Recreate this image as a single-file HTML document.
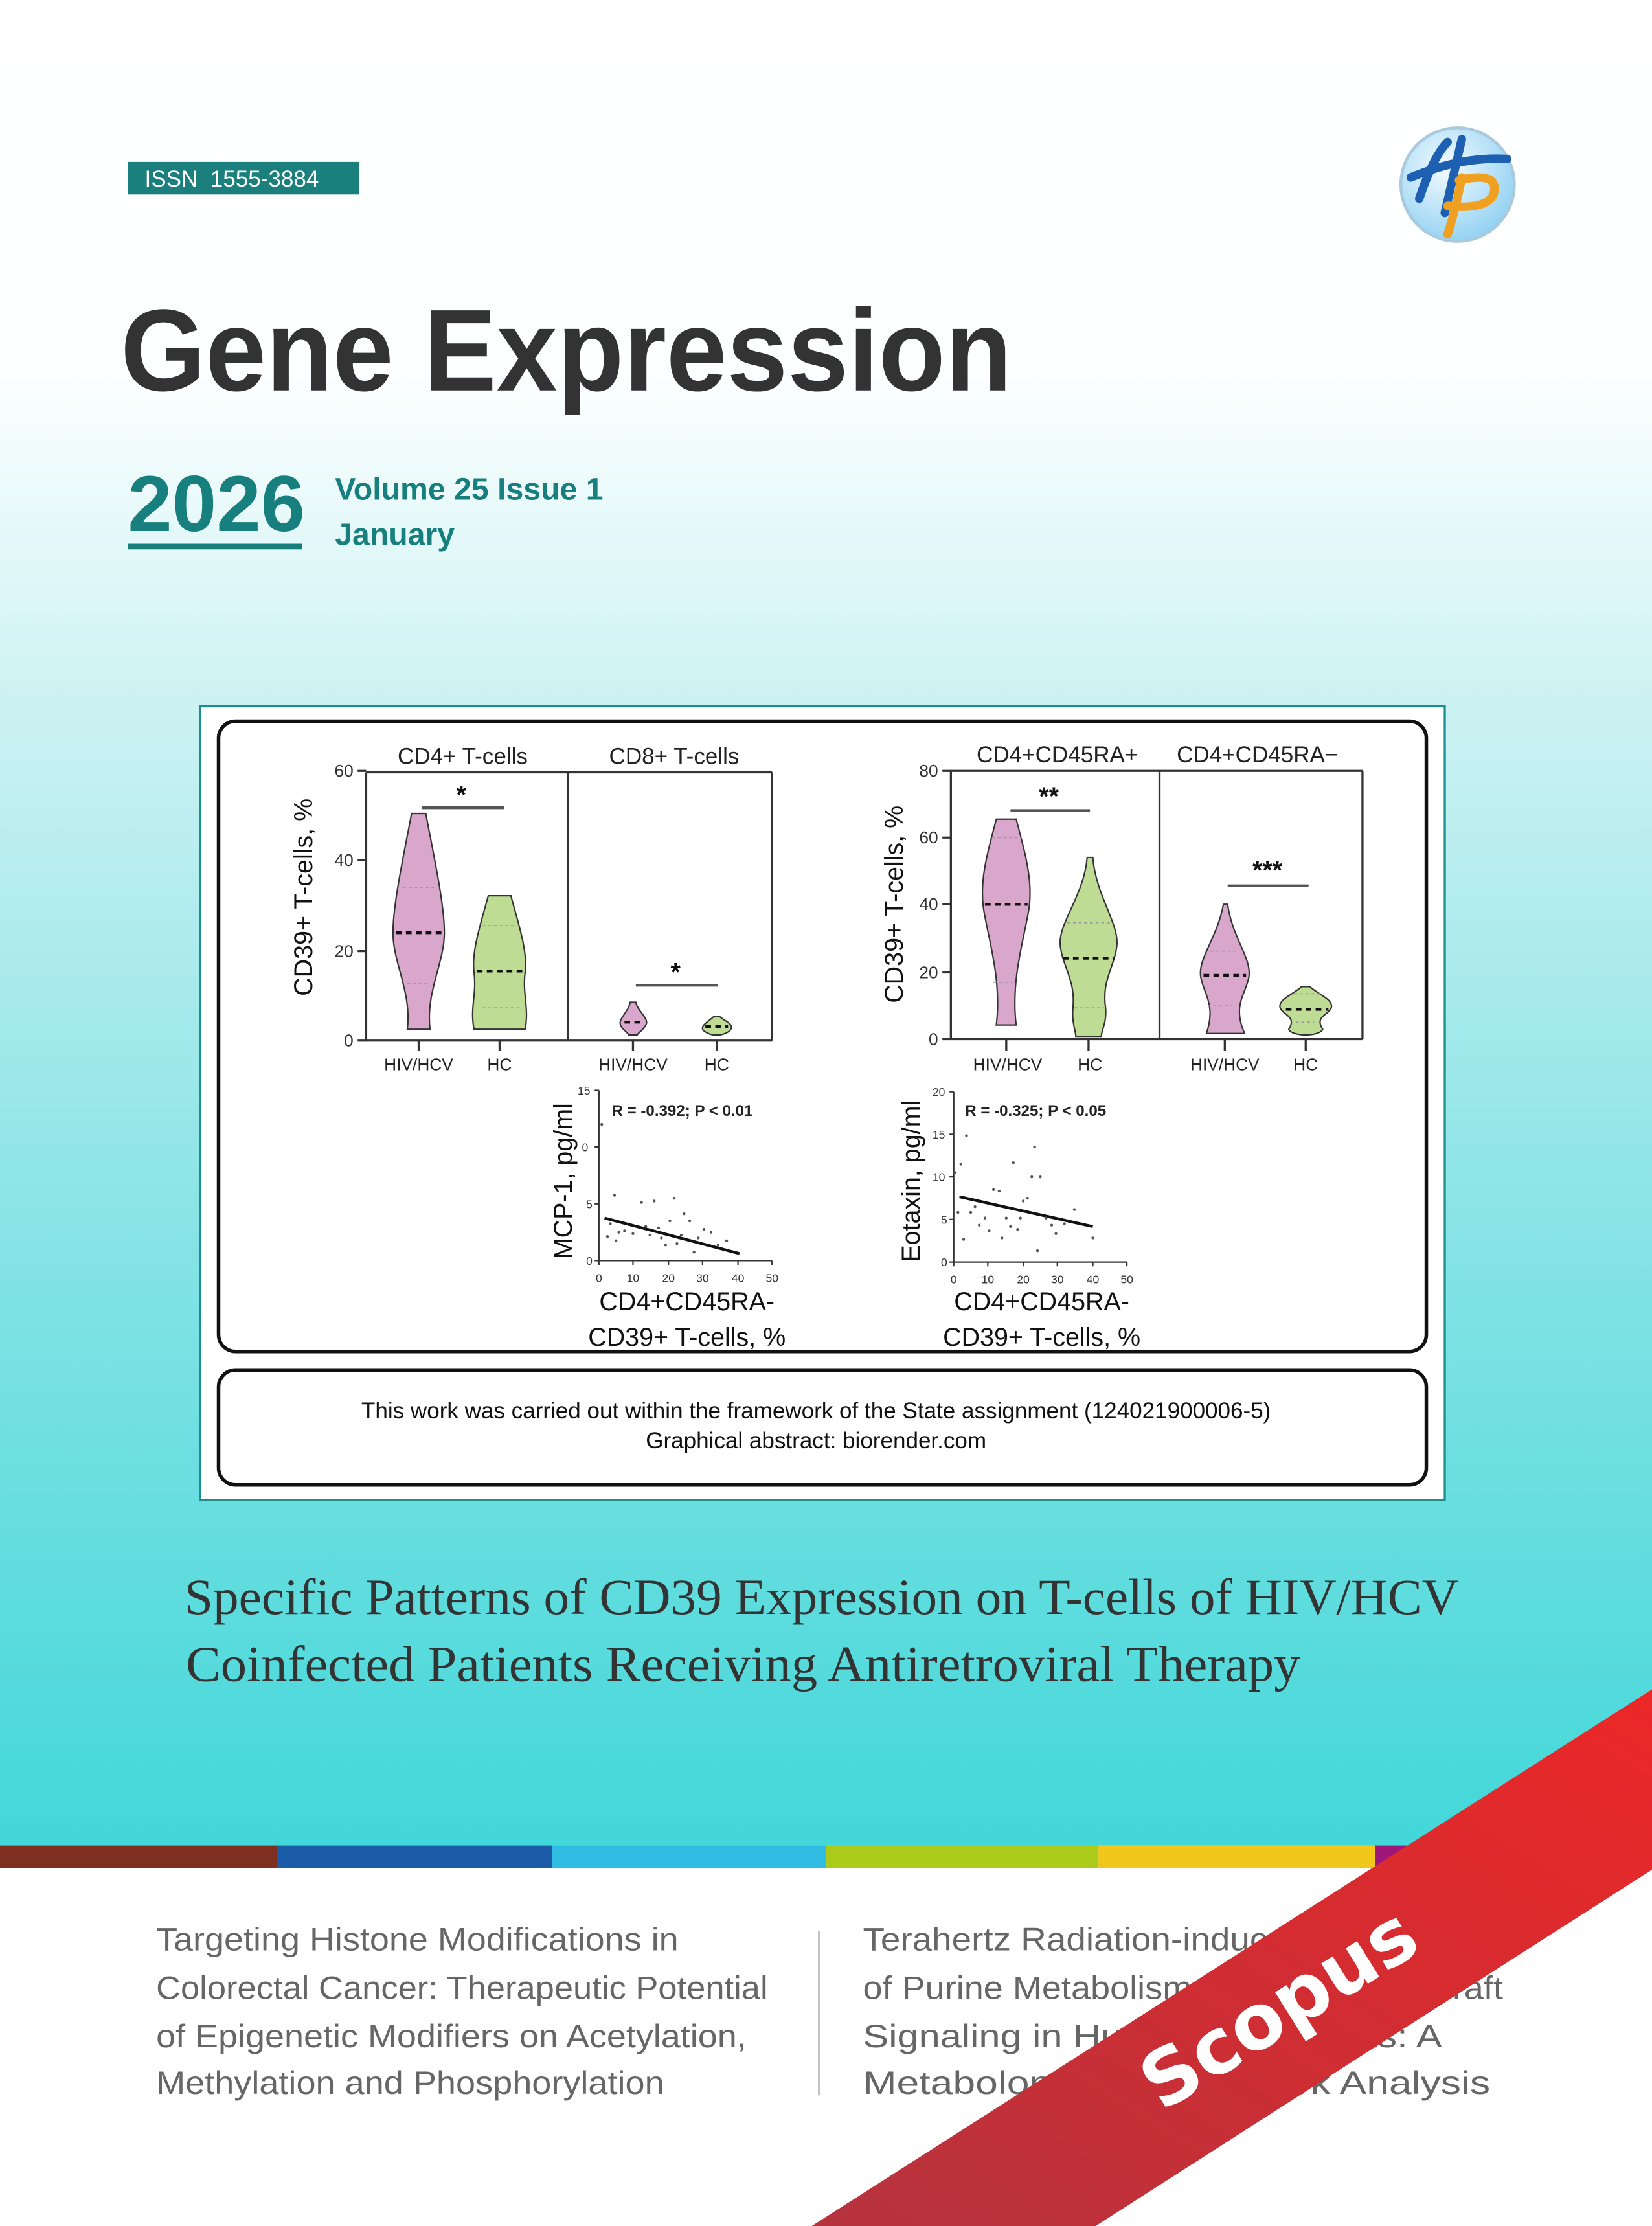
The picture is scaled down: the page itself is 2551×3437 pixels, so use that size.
<!DOCTYPE html>
<html><head><meta charset="utf-8"><style>html,body{margin:0;padding:0;background:#fff}svg{display:block}</style></head>
<body>
<svg width="2551" height="3437" viewBox="0 0 1164 1568" preserveAspectRatio="none" xmlns="http://www.w3.org/2000/svg" font-family="Liberation Sans, sans-serif">
<defs>
<linearGradient id="bg" x1="0" y1="0" x2="0" y2="1">
<stop offset="0" stop-color="#ffffff"/>
<stop offset="0.2" stop-color="#fdffff"/>
<stop offset="0.38" stop-color="#cdf2f3"/>
<stop offset="0.7" stop-color="#80e2e4"/>
<stop offset="1" stop-color="#42d7d9"/>
</linearGradient>
<linearGradient id="rib" x1="1" y1="0" x2="0" y2="1">
<stop offset="0" stop-color="#ec2727"/>
<stop offset="1" stop-color="#b5333e"/>
</linearGradient>
<radialGradient id="lg" cx="0.4" cy="0.35" r="0.7">
<stop offset="0" stop-color="#f4fbff"/>
<stop offset="1" stop-color="#8fd0f2"/>
</radialGradient>
</defs>
<rect x="0" y="0" width="1164" height="1300" fill="url(#bg)"/>
<rect x="0" y="1316" width="1164" height="252" fill="#fff"/>
<rect x="0" y="1300" width="195" height="16" fill="#7f2f20"/>
<rect x="195" y="1300" width="194" height="16" fill="#1b5ca8"/>
<rect x="389" y="1300" width="193" height="16" fill="#31bce3"/>
<rect x="582" y="1300" width="192" height="16" fill="#aacb19"/>
<rect x="774" y="1300" width="195" height="16" fill="#f2c71b"/>
<rect x="969" y="1300" width="195" height="16" fill="#a0177a"/>

<rect x="90" y="114" width="163" height="23" fill="#1b7f7d"/>
<text x="102" y="131.5" font-size="16" fill="#fff" xml:space="preserve">ISSN  1555-3884</text>
<circle cx="1027" cy="130" r="40" fill="url(#lg)" stroke="#a9c9dc" stroke-width="2"/>
<path d="M1000 140 Q1010 110 1020 100 M1030 98 Q1025 120 1018 150 M994 125 Q1030 110 1062 112" stroke="#1d5fb0" stroke-width="6" fill="none" stroke-linecap="round"/>
<path d="M1030 125 Q1025 150 1020 165 M1028 127 Q1058 120 1052 138 Q1045 148 1020 145" stroke="#f0a020" stroke-width="6" fill="none" stroke-linecap="round"/>
<text x="85" y="275" font-size="82" font-weight="bold" fill="#333" textLength="628" lengthAdjust="spacingAndGlyphs">Gene Expression</text>
<text x="90" y="374" font-size="56" font-weight="bold" fill="#17807e" textLength="125" lengthAdjust="spacingAndGlyphs">2026</text>
<rect x="90" y="383" width="123" height="4" fill="#17807e"/>
<text x="236" y="352" font-size="22" font-weight="bold" fill="#17807e">Volume 25 Issue 1</text>
<text x="236" y="384" font-size="22" font-weight="bold" fill="#17807e">January</text>

<rect x="141" y="497.5" width="877" height="559" fill="#fff" stroke="#1b8f8c" stroke-width="1.5"/>
<rect x="154" y="508" width="851" height="444" rx="12" fill="#fff" stroke="#111" stroke-width="2.5"/>
<rect x="154" y="965" width="851" height="81" rx="12" fill="#fff" stroke="#111" stroke-width="2.5"/>
<text x="575" y="999" font-size="16" text-anchor="middle" fill="#111">This work was carried out within the framework of the State assignment (124021900006-5)</text>
<text x="575" y="1020" font-size="16" text-anchor="middle" fill="#111">Graphical abstract: biorender.com</text>

<g fill="#222" font-size="16" text-anchor="middle">
<text x="326" y="538">CD4+ T-cells</text>
<text x="475" y="538">CD8+ T-cells</text>
<text x="745" y="537">CD4+CD45RA+</text>
<text x="886" y="537">CD4+CD45RA−</text>
</g>
<g fill="none" stroke="#333" stroke-width="1.5">
<path d="M258 544 V733 H544 M400 544 V733 M544 544 V733 M258 544 H544"/>
<path d="M252 543 H258 M252 606 H258 M252 670 H258 M252 733 H258 M295 733 V740 M352 733 V740 M446 733 V740 M505 733 V740"/>
<path d="M670 543 V732 H960 M817 543 V732 M960 543 V732 M670 543 H960"/>
<path d="M664 543 H670 M664 590 H670 M664 637 H670 M664 685 H670 M664 732 H670 M709 732 V740 M767 732 V740 M863 732 V740 M920 732 V740"/>
</g>
<g fill="#333" font-size="12" text-anchor="end">
<text x="249" y="547">60</text><text x="249" y="610">40</text><text x="249" y="674">20</text><text x="249" y="737">0</text>
<text x="661" y="547">80</text><text x="661" y="594">60</text><text x="661" y="641">40</text><text x="661" y="689">20</text><text x="661" y="736">0</text>
</g>
<g fill="#222" font-size="12" text-anchor="middle">
<text x="295" y="754">HIV/HCV</text><text x="352" y="754">HC</text>
<text x="446" y="754">HIV/HCV</text><text x="505" y="754">HC</text>
<text x="710" y="754">HIV/HCV</text><text x="768" y="754">HC</text>
<text x="863" y="754">HIV/HCV</text><text x="920" y="754">HC</text>
</g>
<text transform="translate(220,632) rotate(-90)" font-size="18" text-anchor="middle" fill="#111">CD39+ T-cells, %</text>
<text transform="translate(636,637) rotate(-90)" font-size="18" text-anchor="middle" fill="#111">CD39+ T-cells, %</text>

<g stroke="#333" stroke-width="1">
<path fill="#d9a6cc" d="M290 573 H300 C305 600 314 640 313 660 C312 680 300 700 303 725 H287 C290 700 278 680 277 660 C276 640 285 600 290 573Z"/>
<path fill="#bfdc94" d="M344 631 H360 C365 650 372 670 370 685 C368 700 373 710 370 725 H334 C331 710 336 700 334 685 C332 670 339 650 344 631Z"/>
<path fill="#d9a6cc" d="M444 706 H448 C449 712 458 718 455 722 C453 726 450 727 449 729 H443 C442 727 437 724 437 721 C436 718 443 712 444 706Z"/>
<path fill="#bfdc94" d="M503 716 H507 C510 719 517 721 515 725 C513 728 508 729 507 729 H503 C501 729 496 727 495 725 C494 722 500 719 503 716Z"/>
<path fill="#d9a6cc" d="M702 577 H716 C722 600 728 620 725 640 C722 660 712 690 716 722 H702 C706 690 696 660 693 640 C690 620 696 600 702 577Z"/>
<path fill="#bfdc94" d="M766 604 H770 C772 630 788 650 787 665 C786 680 776 690 779 710 C780 720 776 726 776 730 H758 C758 726 755 720 756 710 C758 690 748 680 747 665 C746 650 764 630 766 604Z"/>
<path fill="#d9a6cc" d="M862 637 H865 C868 660 882 675 880 688 C878 700 868 708 877 728 H850 C857 708 848 700 846 688 C844 675 858 660 862 637Z"/>
<path fill="#bfdc94" d="M917 695 H923 C928 700 940 704 938 710 C936 715 926 716 932 725 C931 728 924 729 920 729 C916 729 909 728 908 725 C914 716 904 715 902 710 C900 704 912 700 917 695Z"/>
</g>
<g stroke="#111" stroke-width="2" stroke-dasharray="4,3">
<path d="M279 657 H311 M336 684 H369 M440 720 H454 M497 723 H513 M694 637 H724 M749 675 H785 M848 687 H878 M906 711 H936"/>
</g>
<g stroke="#999" stroke-width="0.8" stroke-dasharray="2,2">
<path d="M284 625 H306 M287 693 H302 M340 652 H366 M340 710 H368 M699 590 H720 M700 692 H716 M752 650 H783 M757 710 H778 M853 670 H872 M851 708 H868 M912 700 H931 M913 720 H926"/>
</g>
<g stroke="#555" stroke-width="2">
<path d="M297 569 H355 M448 694 H506 M712 571 H768 M865 624 H922"/>
</g>
<g fill="#111" font-size="18" text-anchor="middle" font-weight="bold">
<text x="325" y="566">*</text><text x="476" y="691">*</text><text x="739" y="567">**</text><text x="893" y="619">***</text>
</g>

<g fill="none" stroke="#333" stroke-width="1">
<path d="M422 768 V888 H544"/>
<path d="M419 768 H422 M419 808 H422 M419 848 H422 M419 888 H422 M422 888 V891 M446 888 V891 M471 888 V891 M495 888 V891 M520 888 V891 M544 888 V891"/>
<path d="M672 769 V889 H794"/>
<path d="M669 769 H672 M669 799 H672 M669 829 H672 M669 859 H672 M669 889 H672 M672 889 V892 M696 889 V892 M721 889 V892 M745 889 V892 M770 889 V892 M794 889 V892"/>
</g>
<path d="M426 858 L521 883 M676 843 L770 864" stroke="#111" stroke-width="2"/>
<g fill="#333" font-size="8">
<text x="407" y="771">15</text><text x="410" y="811">0</text><text x="413" y="851">5</text><text x="413" y="891">0</text>
<text x="657" y="772">20</text><text x="657" y="802">15</text><text x="657" y="832">10</text><text x="663" y="862">5</text><text x="663" y="892">0</text>
<g text-anchor="middle">
<text x="422" y="903">0</text><text x="446" y="903">10</text><text x="471" y="903">20</text><text x="495" y="903">30</text><text x="520" y="903">40</text><text x="544" y="903">50</text>
<text x="672" y="904">0</text><text x="696" y="904">10</text><text x="721" y="904">20</text><text x="745" y="904">30</text><text x="770" y="904">40</text><text x="794" y="904">50</text>
</g></g>
<g fill="#222" font-size="11" font-weight="bold">
<text x="431" y="786">R = -0.392; P &lt; 0.01</text>
<text x="680" y="786">R = -0.325; P &lt; 0.05</text>
</g>
<g fill="#555">
<circle cx="424" cy="792" r="1"/><circle cx="428" cy="871" r="1"/><circle cx="430" cy="862" r="1"/><circle cx="433" cy="842" r="1"/><circle cx="434" cy="874" r="1"/><circle cx="436" cy="868" r="1"/><circle cx="440" cy="867" r="1"/><circle cx="446" cy="869" r="1"/><circle cx="452" cy="847" r="1"/><circle cx="455" cy="864" r="1"/><circle cx="458" cy="870" r="1"/><circle cx="461" cy="846" r="1"/><circle cx="464" cy="865" r="1"/><circle cx="466" cy="872" r="1"/><circle cx="469" cy="877" r="1"/><circle cx="472" cy="860" r="1"/><circle cx="475" cy="844" r="1"/><circle cx="477" cy="876" r="1"/><circle cx="480" cy="870" r="1"/><circle cx="482" cy="855" r="1"/><circle cx="486" cy="860" r="1"/><circle cx="489" cy="882" r="1"/><circle cx="492" cy="872" r="1"/><circle cx="496" cy="866" r="1"/><circle cx="501" cy="868" r="1"/><circle cx="506" cy="877" r="1"/><circle cx="512" cy="874" r="1"/>
<circle cx="673" cy="826" r="1"/><circle cx="675" cy="854" r="1"/><circle cx="677" cy="820" r="1"/><circle cx="679" cy="873" r="1"/><circle cx="681" cy="800" r="1"/><circle cx="684" cy="854" r="1"/><circle cx="687" cy="850" r="1"/><circle cx="690" cy="863" r="1"/><circle cx="694" cy="858" r="1"/><circle cx="697" cy="867" r="1"/><circle cx="700" cy="838" r="1"/><circle cx="704" cy="839" r="1"/><circle cx="706" cy="872" r="1"/><circle cx="709" cy="858" r="1"/><circle cx="712" cy="864" r="1"/><circle cx="714" cy="819" r="1"/><circle cx="717" cy="866" r="1"/><circle cx="719" cy="858" r="1"/><circle cx="721" cy="846" r="1"/><circle cx="724" cy="844" r="1"/><circle cx="727" cy="829" r="1"/><circle cx="729" cy="808" r="1"/><circle cx="731" cy="881" r="1"/><circle cx="733" cy="829" r="1"/><circle cx="737" cy="858" r="1"/><circle cx="741" cy="863" r="1"/><circle cx="744" cy="869" r="1"/><circle cx="750" cy="862" r="1"/><circle cx="757" cy="852" r="1"/><circle cx="770" cy="872" r="1"/>
</g>
<text transform="translate(403,832) rotate(-90)" font-size="18" text-anchor="middle" fill="#111">MCP-1, pg/ml</text>
<text transform="translate(648,832) rotate(-90)" font-size="18" text-anchor="middle" fill="#111">Eotaxin, pg/ml</text>
<g fill="#111" font-size="18" text-anchor="middle">
<text x="484" y="923">CD4+CD45RA-</text><text x="484" y="948">CD39+ T-cells, %</text>
<text x="734" y="923">CD4+CD45RA-</text><text x="734" y="948">CD39+ T-cells, %</text>
</g>

<g font-family="Liberation Serif, serif" font-size="36" fill="#333">
<text x="130" y="1137" textLength="898" lengthAdjust="spacingAndGlyphs">Specific Patterns of CD39 Expression on T-cells of HIV/HCV</text>
<text x="131" y="1184" textLength="785" lengthAdjust="spacingAndGlyphs">Coinfected Patients Receiving Antiretroviral Therapy</text>
</g>

<g font-size="23" fill="#666">
<text x="110" y="1374" textLength="368" lengthAdjust="spacingAndGlyphs">Targeting Histone Modifications in</text>
<text x="110" y="1408" textLength="431" lengthAdjust="spacingAndGlyphs">Colorectal Cancer: Therapeutic Potential</text>
<text x="110" y="1442" textLength="416" lengthAdjust="spacingAndGlyphs">of Epigenetic Modifiers on Acetylation,</text>
<text x="110" y="1475" textLength="358" lengthAdjust="spacingAndGlyphs">Methylation and Phosphorylation</text>
<text x="608" y="1374" textLength="420" lengthAdjust="spacingAndGlyphs">Terahertz Radiation-induced Changes</text>
<text x="608" y="1408" textLength="451" lengthAdjust="spacingAndGlyphs">of Purine Metabolism and Crosstalk Graft</text>
<text x="608" y="1442" textLength="408" lengthAdjust="spacingAndGlyphs">Signaling in Human Fibroblasts: A</text>
<text x="608" y="1475" textLength="442" lengthAdjust="spacingAndGlyphs">Metabolomic and Network Analysis</text>
</g>
<rect x="576.5" y="1360" width="1" height="116" fill="#999"/>

<polygon points="572,1568 1164,1190 1164,1317 772,1568" fill="url(#rib)"/>
<text transform="translate(903,1418) rotate(-32)" font-size="54" font-weight="bold" font-family="DejaVu Sans, sans-serif" fill="#fff" text-anchor="middle" dominant-baseline="middle">Scopus</text>
</svg>
</body></html>
